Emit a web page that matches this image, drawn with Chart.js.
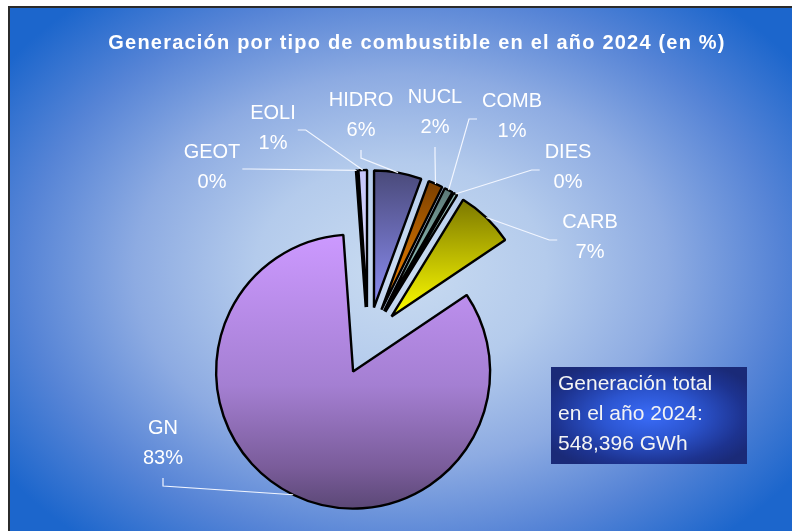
<!DOCTYPE html>
<html>
<head>
<meta charset="utf-8">
<script src="https://cdn.jsdelivr.net/npm/chart.js@4"></script>
<style>
  body { margin: 0; background: #fff; }
  #wrap { position: relative; width: 792px; height: 531px; overflow: hidden; }
  #panel {
    position: absolute; left: 8px; top: 6px; right: 0; bottom: 0;
    border-top: 2px solid #2b2b2b; border-left: 2px solid #2b2b2b;
    background: radial-gradient(ellipse 62% 68% at 50% 50%, #cadcf1 0%, #b4cbec 30%, #8dabe2 55%, #5684d6 78%, #1c66cc 100%);
  }
  #fuelPie { position: absolute; left: 0; top: 0; }
  #totalBox {
    position: absolute; left: 551px; top: 367px; width: 189px; height: 96px;
    padding: 1px 0 0 7px;
    background: radial-gradient(ellipse 60% 62% at 50% 50%, #3a6cf8 0%, #2c55d0 40%, #1d3390 80%, #1a2a78 100%);
    color: #f4f4f4; font: 21px "Liberation Sans", Arial, sans-serif; line-height: 30px;
  }
</style>
</head>
<body>
<div id="wrap">
  <div id="panel"></div>
  <canvas id="fuelPie" width="792" height="531"></canvas>
  <div id="totalBox">Generación total<br>en el año 2024:<br>548,396 GWh</div>
</div>
<script>
const categories = ['GEOT', 'EOLI', 'HIDRO', 'NUCL', 'COMB', 'DIES', 'CARB', 'GN'];
const shares = [0.15, 1.0, 5.6, 1.7, 1.0, 0.45, 6.8, 83.3];
const titleText = 'Generación por tipo de combustible en el año 2024 (en %)';

// top / bottom colours of each slice gradient
const sliceColors = [
  [[0, '#b8b8ec'], [1, '#e4e4ff']],
  [[0, '#c4c4fa'], [1, '#e8e8ff']],
  [[0, '#4a4a7a'], [1, '#8c8ef4']],
  [[0, '#7a3f00'], [1, '#ff8c00']],
  [[0, '#5a7876'], [1, '#ace2da']],
  [[0, '#8fb8b4'], [1, '#d4f0ee']],
  [[0, '#7c7800'], [1, '#ffff00']],
  [[0, '#cc99ff'], [0.55, '#a47fd2'], [0.85, '#7a5c9a'], [1, '#5b4876']]
];

// label text centre (first line) and the side the leader leaves from
const labelAt = [
  [212, 152, 'right'], [273, 113, 'right'], [361, 100, 'bottom'], [435, 97, 'bottom'],
  [512, 101, 'left'], [568, 152, 'left'], [590, 222, 'left'], [163, 428, 'bottom']
];

const ROTATION = -4.1;
const EXPLODE = 34;
const RADIUS = 137;

function sliceGeom(chart, i) {
  const area = chart.chartArea;
  const vals = chart.data.datasets[0].data;
  const total = vals.reduce((a, b) => a + b, 0);
  let start = (ROTATION - 90) * Math.PI / 180;
  for (let k = 0; k < i; k++) start += vals[k] / total * 2 * Math.PI;
  const end = start + vals[i] / total * 2 * Math.PI;
  const mid = (start + end) / 2;
  const cx = (area.left + area.right) / 2 + Math.cos(mid) * EXPLODE;
  const cy = (area.top + area.bottom) / 2 + Math.sin(mid) * EXPLODE;
  let minY = cy, maxY = cy;
  for (let a = start; a <= end; a += 0.01) {
    const y = cy + Math.sin(a) * RADIUS;
    minY = Math.min(minY, y); maxY = Math.max(maxY, y);
  }
  const yEnd = cy + Math.sin(end) * RADIUS;
  minY = Math.min(minY, yEnd); maxY = Math.max(maxY, yEnd);
  return {minY: minY, maxY: maxY};
}

function sliceFill(context) {
  const chart = context.chart;
  if (!chart.chartArea) return sliceColors[context.dataIndex][0][1];
  const g = sliceGeom(chart, context.dataIndex);
  const grad = chart.ctx.createLinearGradient(0, g.minY, 0, g.maxY);
  sliceColors[context.dataIndex].forEach(s => grad.addColorStop(s[0], s[1]));
  return grad;
}

// push every slice out along its own middle angle without enlarging it
const explodePlugin = {
  id: 'explode',
  beforeDatasetsDraw(chart) {
    chart.getDatasetMeta(0).data.forEach(arc => {
      const mid = (arc.startAngle + arc.endAngle) / 2;
      arc._home = [arc.x, arc.y];
      arc.x += Math.cos(mid) * EXPLODE;
      arc.y += Math.sin(mid) * EXPLODE;
    });
  },
  afterDatasetsDraw(chart) {
    chart.getDatasetMeta(0).data.forEach(arc => {
      arc.x = arc._home[0];
      arc.y = arc._home[1];
    });
  }
};

const labelPlugin = {
  id: 'sliceLabels',
  afterDraw(chart) {
    const ctx = chart.ctx;
    const vals = chart.data.datasets[0].data;
    const total = vals.reduce((a, b) => a + b, 0);
    ctx.save();
    ctx.fillStyle = '#ffffff';
    ctx.font = 'bold 20px "Liberation Sans", Arial, sans-serif';
    ctx.letterSpacing = '1.2px';
    ctx.textAlign = 'center';
    ctx.textBaseline = 'alphabetic';
    ctx.fillText(titleText, 417, 49);
    ctx.letterSpacing = '0px';

    ctx.font = '20px "Liberation Sans", Arial, sans-serif';
    ctx.textBaseline = 'middle';
    ctx.strokeStyle = '#f2f6ff';
    ctx.lineWidth = 1.2;
    chart.getDatasetMeta(0).data.forEach((arc, i) => {
      const mid = (arc.startAngle + arc.endAngle) / 2;
      const ex = arc.x + Math.cos(mid) * (EXPLODE + arc.outerRadius);
      const ey = arc.y + Math.sin(mid) * (EXPLODE + arc.outerRadius);
      const lx = labelAt[i][0], ly = labelAt[i][1], side = labelAt[i][2];
      const lines = [categories[i], Math.round(vals[i] / total * 100) + '%'];
      ctx.fillText(lines[0], lx, ly);
      ctx.fillText(lines[1], lx, ly + 30);
      const half = Math.max(ctx.measureText(lines[0]).width, ctx.measureText(lines[1]).width) / 2;
      let sx, sy, tx, ty;
      if (side === 'right') { sx = lx + half + 2; sy = ly + 17; tx = sx + 8; ty = sy; }
      else if (side === 'left') { sx = lx - half - 5; sy = ly + 18; tx = sx - 8; ty = sy; }
      else { sx = lx; sy = ly + 50; tx = sx; ty = sy + 8; }
      ctx.beginPath();
      ctx.moveTo(sx, sy);
      ctx.lineTo(tx, ty);
      ctx.lineTo(ex, ey);
      ctx.stroke();
    });
    ctx.restore();
  }
};

new Chart(document.getElementById('fuelPie').getContext('2d'), {
  type: 'pie',
  data: {
    labels: categories,
    datasets: [{
      data: shares,
      radius: RADIUS,
      backgroundColor: sliceFill,
      borderColor: '#000000',
      borderWidth: 2.4
    }]
  },
  options: {
    responsive: false,
    animation: false,
    events: [],
    rotation: ROTATION,
    layout: {padding: {left: 0, right: 56, top: 151, bottom: 0}},
    plugins: {
      legend: {display: false},
      tooltip: {enabled: false},
      title: {display: false}
    }
  },
  plugins: [explodePlugin, labelPlugin]
});
</script>
</body>
</html>
